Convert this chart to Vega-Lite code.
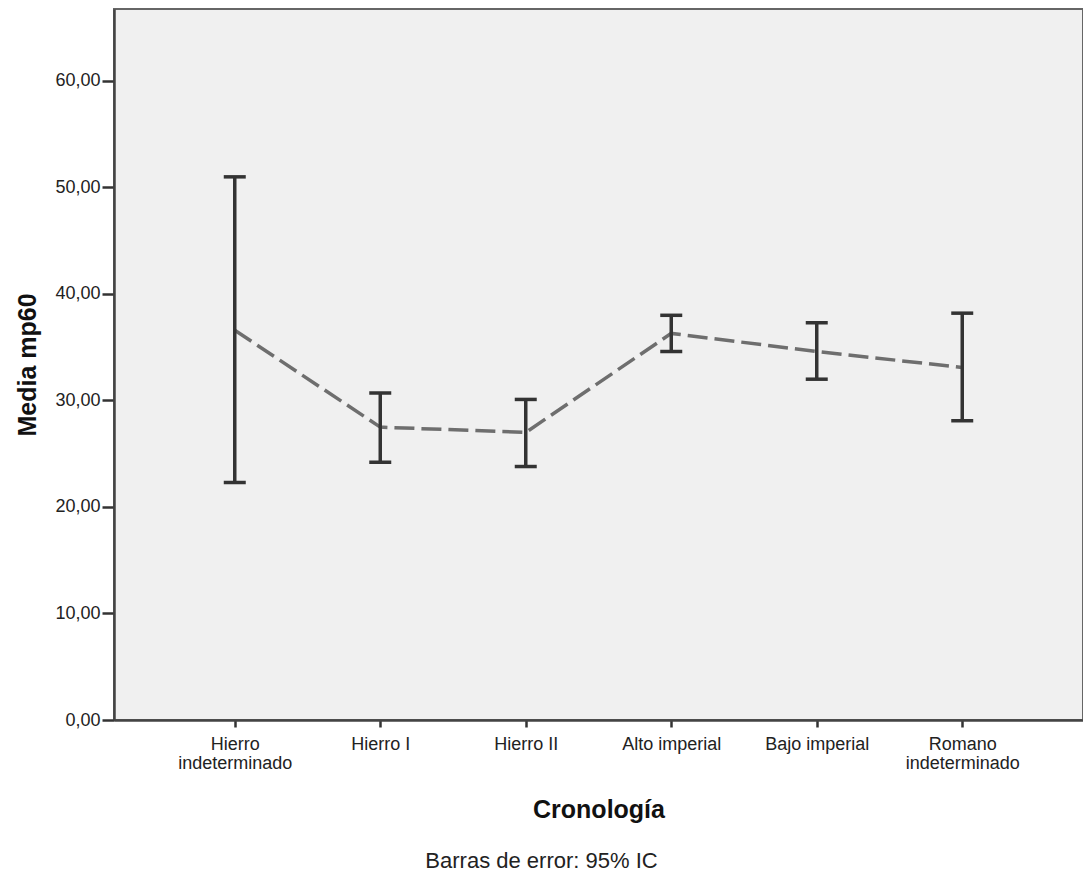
{
  "$schema": "https://vega.github.io/schema/vega-lite/v6.json",
  "autosize": {"type": "none"},
  "width": 969,
  "height": 711,
  "padding": {"left": 114, "top": 9, "right": 0, "bottom": 156},
  "background": "white",
  "title": {
    "text": "Barras de error: 95% IC",
    "orient": "bottom",
    "anchor": "middle",
    "dx": -57,
    "offset": 29,
    "font": "Liberation Sans",
    "fontSize": 22,
    "fontWeight": "normal",
    "color": "#222222"
  },
  "config": {
    "view": {"fill": "#f0f0f0", "stroke": "#666666", "strokeWidth": 2},
    "axis": {
      "labelFont": "Liberation Sans",
      "titleFont": "Liberation Sans",
      "labelColor": "#222222",
      "titleColor": "#111111",
      "domainColor": "#444444",
      "domainWidth": 2.5,
      "tickColor": "#333333",
      "tickWidth": 2.5,
      "grid": false
    }
  },
  "data": {
    "values": [
      {"cat": "Hierro indeterminado", "mean": 36.6, "lo": 22.3, "hi": 51.0},
      {"cat": "Hierro I", "mean": 27.5, "lo": 24.2, "hi": 30.7},
      {"cat": "Hierro II", "mean": 27.0, "lo": 23.8, "hi": 30.1},
      {"cat": "Alto imperial", "mean": 36.3, "lo": 34.6, "hi": 38.0},
      {"cat": "Bajo imperial", "mean": 34.6, "lo": 32.0, "hi": 37.3},
      {"cat": "Romano indeterminado", "mean": 33.1, "lo": 28.1, "hi": 38.2}
    ]
  },
  "encoding": {
    "x": {
      "field": "cat",
      "type": "nominal",
      "sort": null,
      "scale": {"type": "point", "padding": 0.83},
      "axis": {
        "title": "Cronología",
        "titleFontSize": 25,
        "titleFontWeight": "bold",
        "titlePadding": 25,
        "labelAngle": 0,
        "labelFontSize": 18,
        "labelPadding": 8,
        "labelLineHeight": 19,
        "tickSize": 7,
        "labelExpr": "indexof(datum.value, 'indeterminado') >= 0 ? split(datum.value, ' ') : datum.value"
      }
    }
  },
  "layer": [
    {
      "mark": {"type": "line", "color": "#6e6e6e", "strokeWidth": 3.5, "strokeDash": [20, 7]},
      "encoding": {
        "y": {
          "field": "mean",
          "type": "quantitative",
          "scale": {"domain": [0, 66.76], "nice": false, "zero": true},
          "axis": {
            "title": "Media mp60",
            "titleFontSize": 25,
            "titleFontWeight": "bold",
            "titlePadding": 14,
            "labelFontSize": 18,
            "labelPadding": 2,
            "tickSize": 12,
            "values": [0, 10, 20, 30, 40, 50, 60],
            "labelExpr": "replace(format(datum.value, '.2f'), '.', ',')"
          }
        }
      }
    },
    {
      "mark": {"type": "rule", "color": "#333333", "strokeWidth": 3.5},
      "encoding": {
        "y": {"field": "lo", "type": "quantitative"},
        "y2": {"field": "hi"}
      }
    },
    {
      "mark": {"type": "tick", "color": "#333333", "opacity": 1, "size": 22, "thickness": 3.5, "orient": "horizontal"},
      "encoding": {"y": {"field": "lo", "type": "quantitative"}}
    },
    {
      "mark": {"type": "tick", "color": "#333333", "opacity": 1, "size": 22, "thickness": 3.5, "orient": "horizontal"},
      "encoding": {"y": {"field": "hi", "type": "quantitative"}}
    }
  ]
}
